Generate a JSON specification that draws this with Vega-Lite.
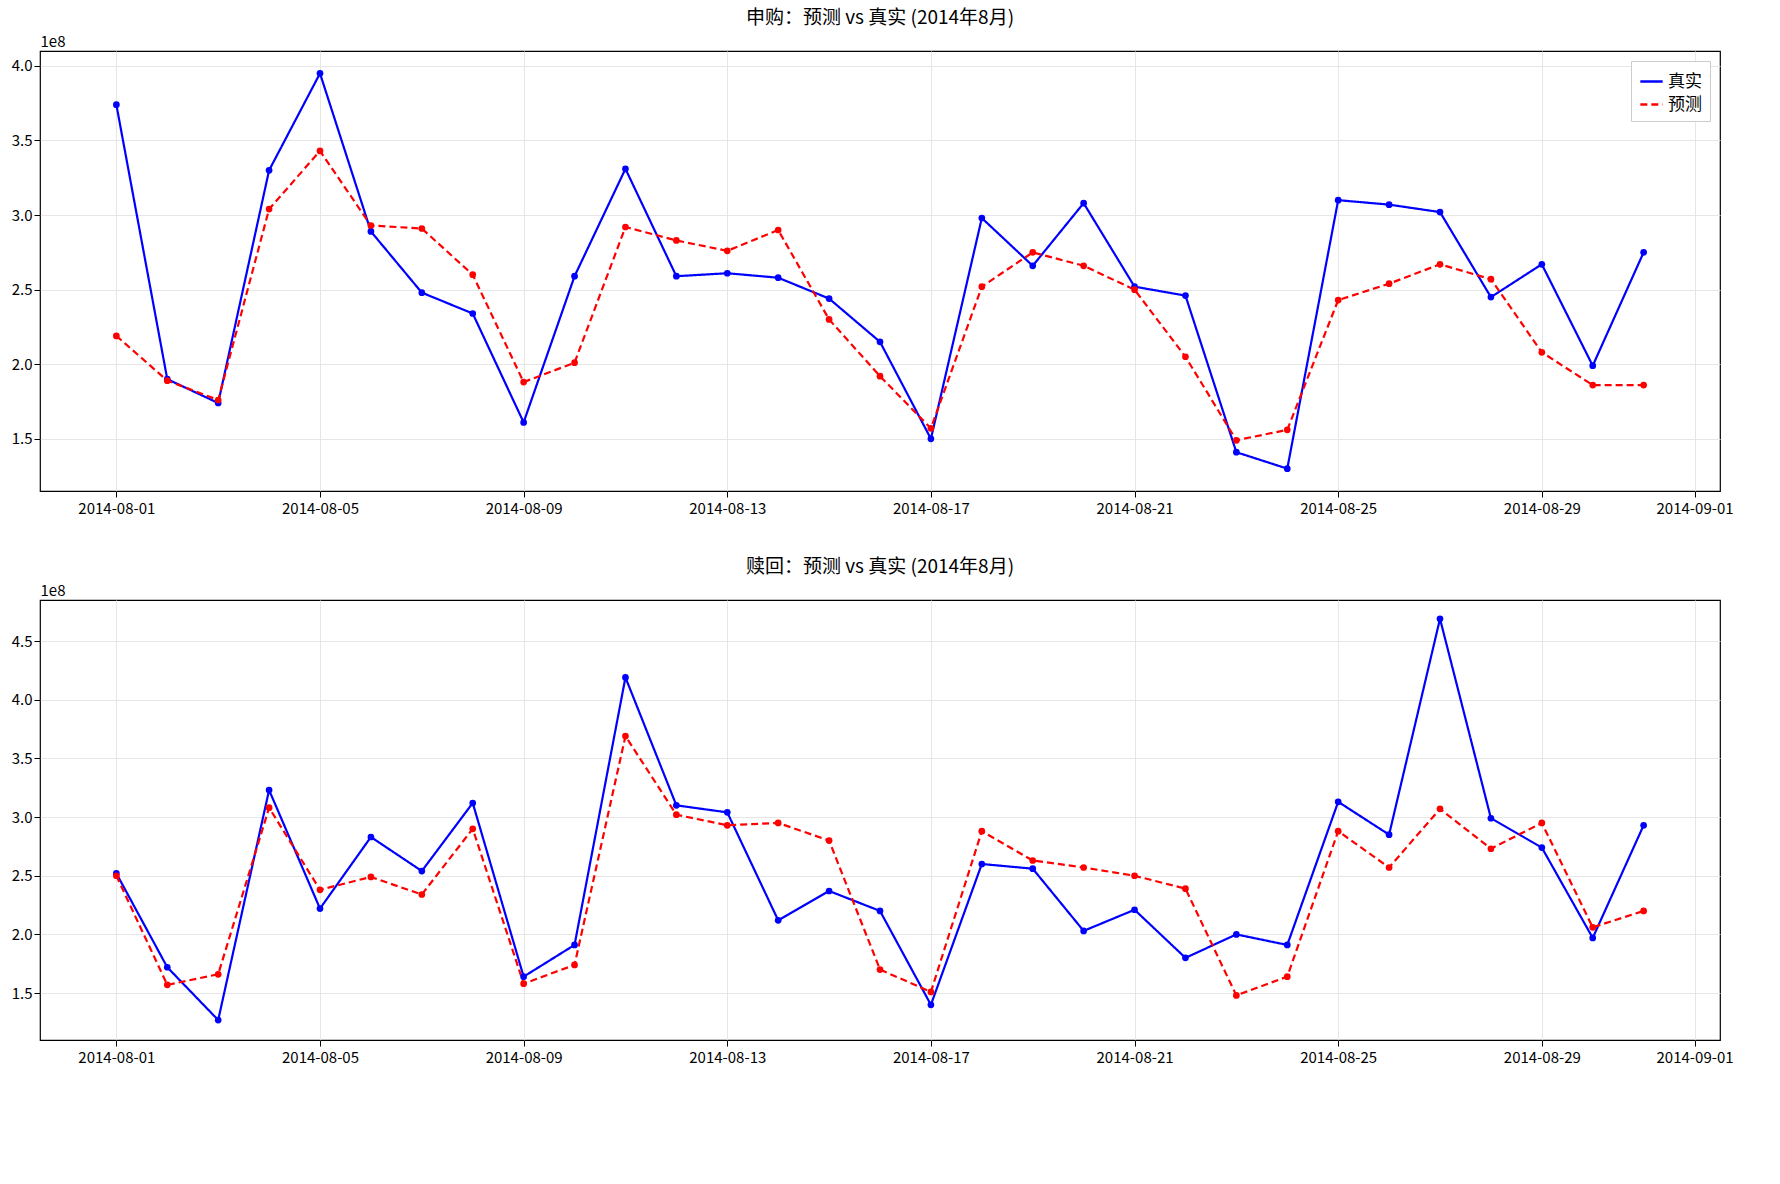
{
"$schema":"https://vega.github.io/schema/vega-lite/v6.json",
"background":"white",
"padding":{"left":10,"top":8,"right":20,"bottom":5},
"config":{"font":"Noto Sans CJK SC","view":{"stroke":"black","strokeWidth":1.2},
"axis":{"labelFont":"Noto Sans CJK SC","labelFontSize":15,"labelColor":"black","grid":true,"gridColor":"#e6e6e6","tickColor":"black","domain":false,"tickSize":6},
"title":{"font":"Noto Sans CJK SC","fontSize":19,"fontWeight":"normal","offset":6},
"legend":{"labelFont":"Noto Sans CJK SC","labelFontSize":17}},
"datasets":{"rows":[
{"d":"2014-08-01","p":"申购","s":"真实","v":374000000},{"d":"2014-08-02","p":"申购","s":"真实","v":190000000},{"d":"2014-08-03","p":"申购","s":"真实","v":174000000},{"d":"2014-08-04","p":"申购","s":"真实","v":330000000},{"d":"2014-08-05","p":"申购","s":"真实","v":395000000},{"d":"2014-08-06","p":"申购","s":"真实","v":289000000},{"d":"2014-08-07","p":"申购","s":"真实","v":248000000},{"d":"2014-08-08","p":"申购","s":"真实","v":234000000},{"d":"2014-08-09","p":"申购","s":"真实","v":161000000},{"d":"2014-08-10","p":"申购","s":"真实","v":259000000},{"d":"2014-08-11","p":"申购","s":"真实","v":331000000},{"d":"2014-08-12","p":"申购","s":"真实","v":259000000},{"d":"2014-08-13","p":"申购","s":"真实","v":261000000},{"d":"2014-08-14","p":"申购","s":"真实","v":258000000},{"d":"2014-08-15","p":"申购","s":"真实","v":244000000},{"d":"2014-08-16","p":"申购","s":"真实","v":215000000},{"d":"2014-08-17","p":"申购","s":"真实","v":150000000},{"d":"2014-08-18","p":"申购","s":"真实","v":298000000},{"d":"2014-08-19","p":"申购","s":"真实","v":266000000},{"d":"2014-08-20","p":"申购","s":"真实","v":308000000},{"d":"2014-08-21","p":"申购","s":"真实","v":252000000},{"d":"2014-08-22","p":"申购","s":"真实","v":246000000},{"d":"2014-08-23","p":"申购","s":"真实","v":141000000},{"d":"2014-08-24","p":"申购","s":"真实","v":130000000},{"d":"2014-08-25","p":"申购","s":"真实","v":310000000},{"d":"2014-08-26","p":"申购","s":"真实","v":307000000},{"d":"2014-08-27","p":"申购","s":"真实","v":302000000},{"d":"2014-08-28","p":"申购","s":"真实","v":245000000},{"d":"2014-08-29","p":"申购","s":"真实","v":267000000},{"d":"2014-08-30","p":"申购","s":"真实","v":199000000},{"d":"2014-08-31","p":"申购","s":"真实","v":275000000},
{"d":"2014-08-01","p":"申购","s":"预测","v":219000000},{"d":"2014-08-02","p":"申购","s":"预测","v":189000000},{"d":"2014-08-03","p":"申购","s":"预测","v":176000000},{"d":"2014-08-04","p":"申购","s":"预测","v":304000000},{"d":"2014-08-05","p":"申购","s":"预测","v":343000000},{"d":"2014-08-06","p":"申购","s":"预测","v":293000000},{"d":"2014-08-07","p":"申购","s":"预测","v":291000000},{"d":"2014-08-08","p":"申购","s":"预测","v":260000000},{"d":"2014-08-09","p":"申购","s":"预测","v":188000000},{"d":"2014-08-10","p":"申购","s":"预测","v":201000000},{"d":"2014-08-11","p":"申购","s":"预测","v":292000000},{"d":"2014-08-12","p":"申购","s":"预测","v":283000000},{"d":"2014-08-13","p":"申购","s":"预测","v":276000000},{"d":"2014-08-14","p":"申购","s":"预测","v":290000000},{"d":"2014-08-15","p":"申购","s":"预测","v":230000000},{"d":"2014-08-16","p":"申购","s":"预测","v":192000000},{"d":"2014-08-17","p":"申购","s":"预测","v":157000000},{"d":"2014-08-18","p":"申购","s":"预测","v":252000000},{"d":"2014-08-19","p":"申购","s":"预测","v":275000000},{"d":"2014-08-20","p":"申购","s":"预测","v":266000000},{"d":"2014-08-21","p":"申购","s":"预测","v":250000000},{"d":"2014-08-22","p":"申购","s":"预测","v":205000000},{"d":"2014-08-23","p":"申购","s":"预测","v":149000000},{"d":"2014-08-24","p":"申购","s":"预测","v":156000000},{"d":"2014-08-25","p":"申购","s":"预测","v":243000000},{"d":"2014-08-26","p":"申购","s":"预测","v":254000000},{"d":"2014-08-27","p":"申购","s":"预测","v":267000000},{"d":"2014-08-28","p":"申购","s":"预测","v":257000000},{"d":"2014-08-29","p":"申购","s":"预测","v":208000000},{"d":"2014-08-30","p":"申购","s":"预测","v":186000000},{"d":"2014-08-31","p":"申购","s":"预测","v":186000000},
{"d":"2014-08-01","p":"赎回","s":"真实","v":252000000},{"d":"2014-08-02","p":"赎回","s":"真实","v":172000000},{"d":"2014-08-03","p":"赎回","s":"真实","v":127000000},{"d":"2014-08-04","p":"赎回","s":"真实","v":323000000},{"d":"2014-08-05","p":"赎回","s":"真实","v":222000000},{"d":"2014-08-06","p":"赎回","s":"真实","v":283000000},{"d":"2014-08-07","p":"赎回","s":"真实","v":254000000},{"d":"2014-08-08","p":"赎回","s":"真实","v":312000000},{"d":"2014-08-09","p":"赎回","s":"真实","v":164000000},{"d":"2014-08-10","p":"赎回","s":"真实","v":191000000},{"d":"2014-08-11","p":"赎回","s":"真实","v":419000000},{"d":"2014-08-12","p":"赎回","s":"真实","v":310000000},{"d":"2014-08-13","p":"赎回","s":"真实","v":304000000},{"d":"2014-08-14","p":"赎回","s":"真实","v":212000000},{"d":"2014-08-15","p":"赎回","s":"真实","v":237000000},{"d":"2014-08-16","p":"赎回","s":"真实","v":220000000},{"d":"2014-08-17","p":"赎回","s":"真实","v":140000000},{"d":"2014-08-18","p":"赎回","s":"真实","v":260000000},{"d":"2014-08-19","p":"赎回","s":"真实","v":256000000},{"d":"2014-08-20","p":"赎回","s":"真实","v":203000000},{"d":"2014-08-21","p":"赎回","s":"真实","v":221000000},{"d":"2014-08-22","p":"赎回","s":"真实","v":180000000},{"d":"2014-08-23","p":"赎回","s":"真实","v":200000000},{"d":"2014-08-24","p":"赎回","s":"真实","v":191000000},{"d":"2014-08-25","p":"赎回","s":"真实","v":313000000},{"d":"2014-08-26","p":"赎回","s":"真实","v":285000000},{"d":"2014-08-27","p":"赎回","s":"真实","v":469000000},{"d":"2014-08-28","p":"赎回","s":"真实","v":299000000},{"d":"2014-08-29","p":"赎回","s":"真实","v":274000000},{"d":"2014-08-30","p":"赎回","s":"真实","v":197000000},{"d":"2014-08-31","p":"赎回","s":"真实","v":293000000},
{"d":"2014-08-01","p":"赎回","s":"预测","v":250000000},{"d":"2014-08-02","p":"赎回","s":"预测","v":157000000},{"d":"2014-08-03","p":"赎回","s":"预测","v":166000000},{"d":"2014-08-04","p":"赎回","s":"预测","v":308000000},{"d":"2014-08-05","p":"赎回","s":"预测","v":238000000},{"d":"2014-08-06","p":"赎回","s":"预测","v":249000000},{"d":"2014-08-07","p":"赎回","s":"预测","v":234000000},{"d":"2014-08-08","p":"赎回","s":"预测","v":290000000},{"d":"2014-08-09","p":"赎回","s":"预测","v":158000000},{"d":"2014-08-10","p":"赎回","s":"预测","v":174000000},{"d":"2014-08-11","p":"赎回","s":"预测","v":369000000},{"d":"2014-08-12","p":"赎回","s":"预测","v":302000000},{"d":"2014-08-13","p":"赎回","s":"预测","v":293000000},{"d":"2014-08-14","p":"赎回","s":"预测","v":295000000},{"d":"2014-08-15","p":"赎回","s":"预测","v":280000000},{"d":"2014-08-16","p":"赎回","s":"预测","v":170000000},{"d":"2014-08-17","p":"赎回","s":"预测","v":151000000},{"d":"2014-08-18","p":"赎回","s":"预测","v":288000000},{"d":"2014-08-19","p":"赎回","s":"预测","v":263000000},{"d":"2014-08-20","p":"赎回","s":"预测","v":257000000},{"d":"2014-08-21","p":"赎回","s":"预测","v":250000000},{"d":"2014-08-22","p":"赎回","s":"预测","v":239000000},{"d":"2014-08-23","p":"赎回","s":"预测","v":148000000},{"d":"2014-08-24","p":"赎回","s":"预测","v":164000000},{"d":"2014-08-25","p":"赎回","s":"预测","v":288000000},{"d":"2014-08-26","p":"赎回","s":"预测","v":257000000},{"d":"2014-08-27","p":"赎回","s":"预测","v":307000000},{"d":"2014-08-28","p":"赎回","s":"预测","v":273000000},{"d":"2014-08-29","p":"赎回","s":"预测","v":295000000},{"d":"2014-08-30","p":"赎回","s":"预测","v":206000000},{"d":"2014-08-31","p":"赎回","s":"预测","v":220000000}
]},
"data":{"name":"rows"},
"spacing":40,
"vconcat":[
{"title":"申购：预测 vs 真实 (2014年8月)","width":1680,"height":440,
"transform":[{"filter":"datum.p === '申购'"}],
"encoding":{
"x":{"field":"d","type":"temporal","title":null,"scale":{"type":"utc","domain":[{"year":2014,"month":7,"date":30,"hours":12,"utc":true},{"year":2014,"month":9,"date":1,"hours":12,"utc":true}]},
"axis":{"labelExpr":"utcFormat(datum.value,'%Y-%m-%d')","labelAngle":0,"labelPadding":4,"values":[{"year":2014,"month":8,"date":1,"utc":true},{"year":2014,"month":8,"date":5,"utc":true},{"year":2014,"month":8,"date":9,"utc":true},{"year":2014,"month":8,"date":13,"utc":true},{"year":2014,"month":8,"date":17,"utc":true},{"year":2014,"month":8,"date":21,"utc":true},{"year":2014,"month":8,"date":25,"utc":true},{"year":2014,"month":8,"date":29,"utc":true},{"year":2014,"month":9,"date":1,"utc":true}]}},
"y":{"field":"v","type":"quantitative","scale":{"domain":[115000000,410000000],"nice":false,"zero":false},
"axis":{"values":[150000000,200000000,250000000,300000000,350000000,400000000],"labelExpr":"format(datum.value/1e8,'.1f')","title":"1e8","titleAngle":0,"titleFontWeight":"normal","titleFontSize":15,"titleAnchor":"end","titleAlign":"left","titleBaseline":"bottom","titleX":0,"titleY":-2}},
"color":{"field":"s","type":"nominal","scale":{"domain":["真实","预测"],"range":["#0000ff","#ff0000"]},"legend":{"title":null,"orient":"top-right","fillColor":"white","strokeColor":"#cccccc","padding":8,"offset":10,"symbolType":"stroke","symbolSize":500,"symbolStrokeWidth":2.5}},
"strokeDash":{"field":"s","type":"nominal","scale":{"domain":["真实","预测"],"range":[[1,0],[7,4]]},"legend":null}},
"layer":[{"mark":{"type":"line","strokeWidth":2.2}},{"mark":{"type":"circle","size":45,"opacity":1}}]},
{"title":"赎回：预测 vs 真实 (2014年8月)","width":1680,"height":440,
"transform":[{"filter":"datum.p === '赎回'"}],
"encoding":{
"x":{"field":"d","type":"temporal","title":null,"scale":{"type":"utc","domain":[{"year":2014,"month":7,"date":30,"hours":12,"utc":true},{"year":2014,"month":9,"date":1,"hours":12,"utc":true}]},
"axis":{"labelExpr":"utcFormat(datum.value,'%Y-%m-%d')","labelAngle":0,"labelPadding":4,"values":[{"year":2014,"month":8,"date":1,"utc":true},{"year":2014,"month":8,"date":5,"utc":true},{"year":2014,"month":8,"date":9,"utc":true},{"year":2014,"month":8,"date":13,"utc":true},{"year":2014,"month":8,"date":17,"utc":true},{"year":2014,"month":8,"date":21,"utc":true},{"year":2014,"month":8,"date":25,"utc":true},{"year":2014,"month":8,"date":29,"utc":true},{"year":2014,"month":9,"date":1,"utc":true}]}},
"y":{"field":"v","type":"quantitative","scale":{"domain":[110000000,485000000],"nice":false,"zero":false},
"axis":{"values":[150000000,200000000,250000000,300000000,350000000,400000000,450000000],"labelExpr":"format(datum.value/1e8,'.1f')","title":"1e8","titleAngle":0,"titleFontWeight":"normal","titleFontSize":15,"titleAnchor":"end","titleAlign":"left","titleBaseline":"bottom","titleX":0,"titleY":-2}},
"color":{"field":"s","type":"nominal","scale":{"domain":["真实","预测"],"range":["#0000ff","#ff0000"]},"legend":{"title":null,"orient":"top-right","fillColor":"white","strokeColor":"#cccccc","padding":8,"offset":10,"symbolType":"stroke","symbolSize":500,"symbolStrokeWidth":2.5}},
"strokeDash":{"field":"s","type":"nominal","scale":{"domain":["真实","预测"],"range":[[1,0],[7,4]]},"legend":null}},
"layer":[{"mark":{"type":"line","strokeWidth":2.2}},{"mark":{"type":"circle","size":45,"opacity":1}}]}
]}
